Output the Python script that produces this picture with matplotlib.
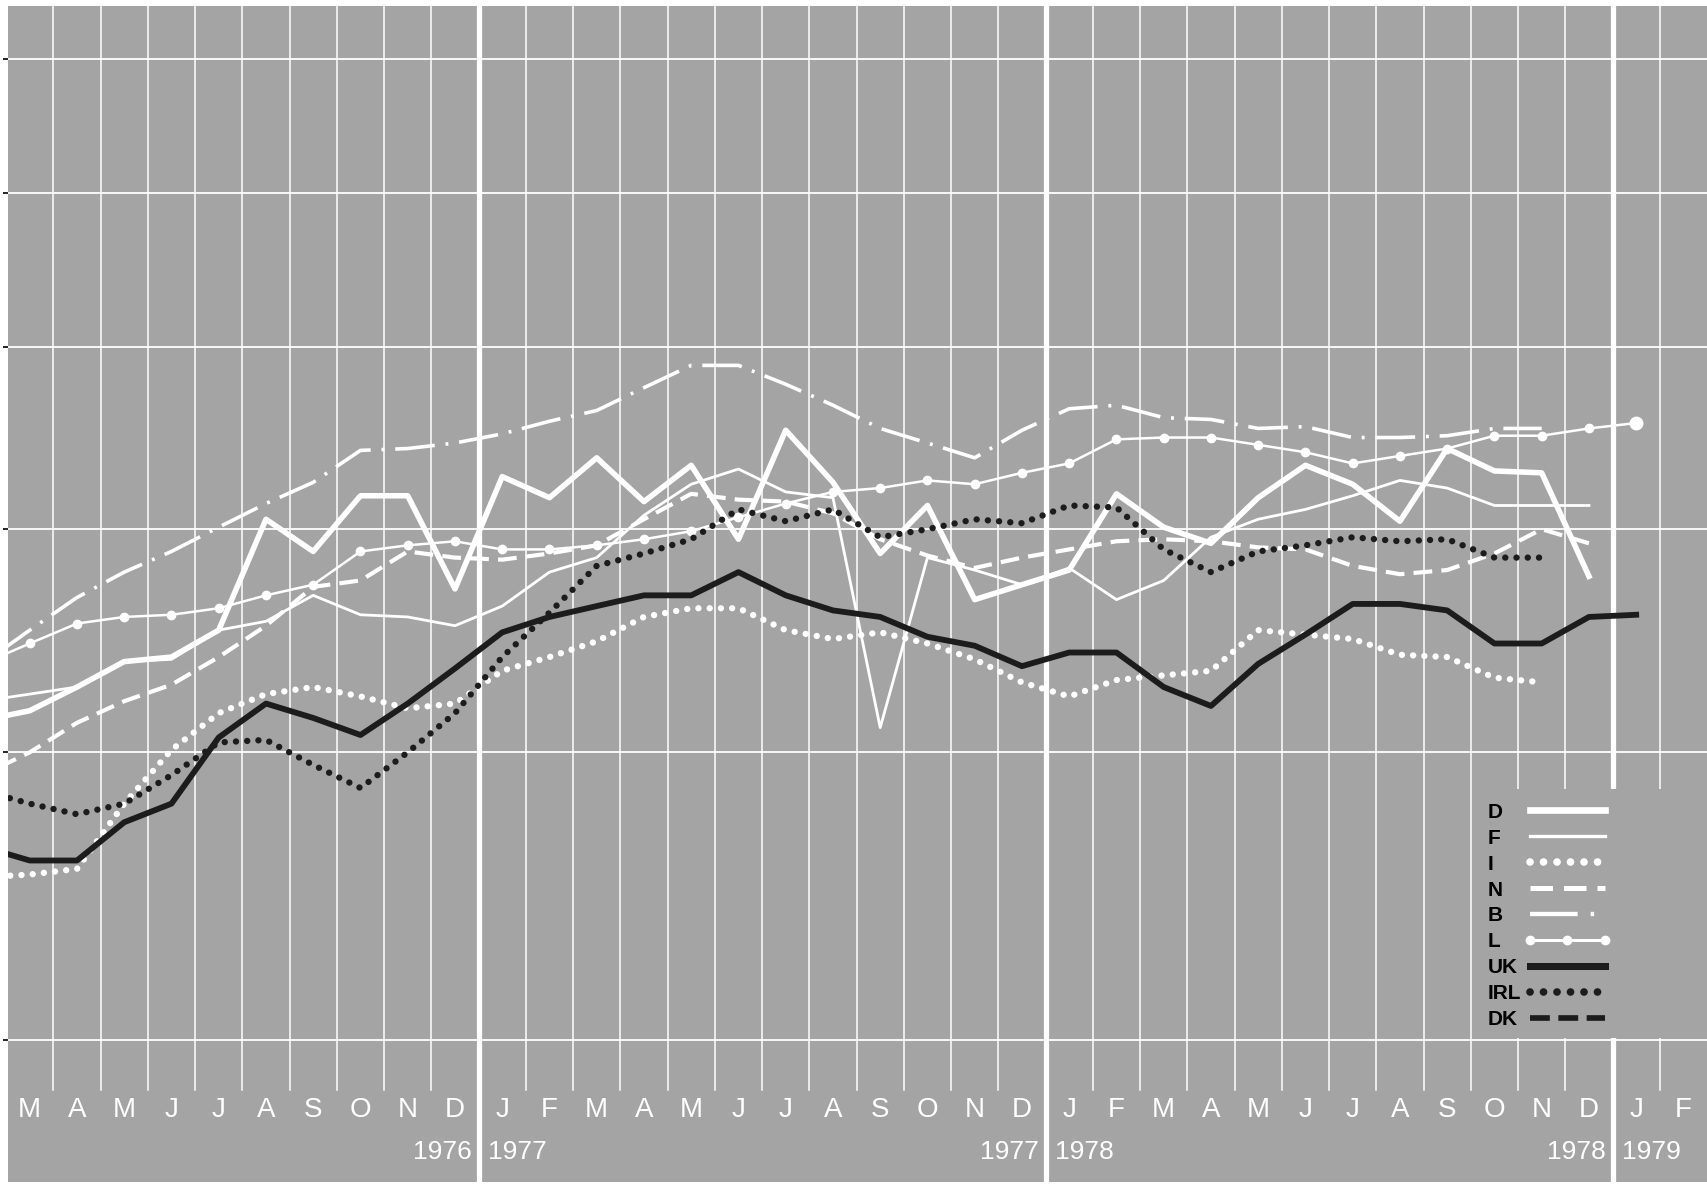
import numpy as np
import matplotlib.pyplot as plt
from matplotlib.patches import Rectangle
from matplotlib.ticker import NullLocator

plt.rcParams['font.family'] = ['Liberation Sans', 'DejaVu Sans']

# month initials on the time axis, March 1976 .. February 1979
months = ['M', 'A', 'M', 'J', 'J', 'A', 'S', 'O', 'N', 'D',
          'J', 'F', 'M', 'A', 'M', 'J', 'J', 'A', 'S', 'O', 'N', 'D',
          'J', 'F', 'M', 'A', 'M', 'J', 'J', 'A', 'S', 'O', 'N', 'D',
          'J', 'F']
years = ['1976', '1977', '1978', '1979']

# monthly values (log scale), every series starts in Feb 1976
D = [4.13, 4.17, 4.27, 4.38, 4.40, 4.52, 5.05, 4.89, 5.17, 5.17, 4.71, 5.27,
     5.16, 5.37, 5.14, 5.33, 4.95, 5.52, 5.24, 4.88, 5.12, 4.66, 4.73, 4.80,
     5.18, 5.01, 4.93, 5.16, 5.33, 5.23, 5.04, 5.42, 5.30, 5.29, 4.77]
F = [4.21, 4.24, 4.27, 4.38, 4.39, 4.52, 4.56, 4.68, 4.59, 4.58, 4.54, 4.63,
     4.79, 4.86, 5.07, 5.23, 5.31, 5.19, 5.16, 4.10, 4.86, 4.80, 4.73, 4.81,
     4.66, 4.75, 4.96, 5.05, 5.10, 5.17, 5.25, 5.21, 5.12, 5.12, 5.12]
I = [3.53, 3.54, 3.56, 3.80, 4.01, 4.16, 4.24, 4.27, 4.23, 4.18, 4.20, 4.34,
     4.40, 4.47, 4.58, 4.62, 4.62, 4.52, 4.48, 4.51, 4.46, 4.39, 4.29, 4.23,
     4.30, 4.32, 4.34, 4.52, 4.50, 4.48, 4.41, 4.40, 4.31, 4.29]
N = [3.91, 4.00, 4.12, 4.21, 4.28, 4.40, 4.54, 4.72, 4.75, 4.89, 4.86, 4.85,
     4.88, 4.92, 5.05, 5.18, 5.15, 5.14, 5.08, 4.95, 4.87, 4.81, 4.86, 4.90,
     4.94, 4.95, 4.94, 4.91, 4.90, 4.82, 4.78, 4.80, 4.88, 5.00, 4.93]
B = [4.37, 4.52, 4.67, 4.79, 4.89, 5.01, 5.13, 5.24, 5.41, 5.42, 5.45, 5.50,
     5.57, 5.63, 5.76, 5.89, 5.89, 5.78, 5.66, 5.53, 5.45, 5.37, 5.52, 5.64,
     5.66, 5.59, 5.58, 5.53, 5.54, 5.48, 5.48, 5.49, 5.53, 5.53]
L = [4.37, 4.46, 4.55, 4.58, 4.59, 4.62, 4.68, 4.73, 4.89, 4.92, 4.94, 4.90,
     4.90, 4.92, 4.95, 4.99, 5.06, 5.13, 5.19, 5.21, 5.25, 5.23, 5.29, 5.34,
     5.47, 5.48, 5.48, 5.44, 5.40, 5.34, 5.38, 5.42, 5.49, 5.49, 5.53, 5.56]
UK = [3.64, 3.59, 3.59, 3.73, 3.80, 4.06, 4.20, 4.14, 4.07, 4.20, 4.35, 4.51,
      4.58, 4.63, 4.68, 4.68, 4.79, 4.68, 4.61, 4.58, 4.49, 4.45, 4.36, 4.42,
      4.42, 4.27, 4.19, 4.37, 4.50, 4.64, 4.64, 4.61, 4.46, 4.46, 4.58, 4.59]
IRL = [3.85, 3.80, 3.76, 3.80, 3.91, 4.04, 4.05, 3.95, 3.86, 4.00, 4.16, 4.40,
       4.60, 4.82, 4.88, 4.95, 5.10, 5.04, 5.10, 4.96, 5.00, 5.05, 5.03, 5.12,
       5.11, 4.90, 4.79, 4.89, 4.92, 4.96, 4.94, 4.95, 4.86, 4.86]
DK = []  # only in the key, no line drawn

countries = ['D', 'F', 'I', 'N', 'B', 'L', 'UK', 'IRL', 'DK']
series = {'D': D, 'F': F, 'I': I, 'N': N, 'B': B, 'L': L,
          'UK': UK, 'IRL': IRL, 'DK': DK}
grid_values = [3, 4, 5, 6, 7, 8]

BG = '#a4a4a4'
WHITE = 'white'
BLACK = '#1c1c1c'
dots = (0, (0.01, 1.75))
styles = {
    'D':   dict(color=WHITE, lw=4.0, ls='-'),
    'F':   dict(color=WHITE, lw=2.0, ls='-'),
    'I':   dict(color=WHITE, lw=4.6, ls=dots, dash_capstyle='round'),
    'N':   dict(color=WHITE, lw=3.0, ls=(0, (4.5, 2.2))),
    'B':   dict(color=WHITE, lw=2.6, ls=(0, (11, 3, 0.8, 3))),
    'L':   dict(color=WHITE, lw=1.8, ls='-', marker='o', ms=6),
    'UK':  dict(color=BLACK, lw=4.2, ls='-'),
    'IRL': dict(color=BLACK, lw=4.6, ls=dots, dash_capstyle='round'),
    'DK':  dict(color=BLACK, lw=3.4, ls=(0, (3.5, 1.5))),
}

fig = plt.figure(figsize=(17.08, 11.84), dpi=100, facecolor='white')
ax = fig.add_axes([8 / 1708, 2 / 1184, 1700 / 1708, 1176 / 1184])
ax.set_facecolor(BG)
ax.set_yscale('log')
ax.set_xlim(-0.46, 35.52)
ax.set_ylim(2.603, 8.437)
for s in ax.spines.values():
    s.set_visible(False)
ax.set_xticks([])
ax.set_yticks(grid_values)
ax.yaxis.set_minor_locator(NullLocator())
ax.tick_params(axis='y', direction='out', length=3.6, width=1.2,
               color='black', labelleft=False)

# grid: horizontal at the scale values, vertical between months, thick at year ends
for v in grid_values:
    ax.axhline(v, color='white', lw=1.3, zorder=1)
year_ends = []
for k in range(len(months) - 1):
    edge = k + 0.5
    if months[k + 1] == 'J' and months[k] == 'D':
        year_ends.append(edge)
        ax.axvline(edge, color='white', lw=3.8, zorder=1.5)
    else:
        ax.axvline(edge, ymin=0.078, color='white', lw=1.1, zorder=1)

# series
for c in countries:
    vals = series[c]
    if not vals:
        continue
    x = np.arange(len(vals)) - 1
    ax.plot(x, vals, zorder=3, **styles[c])
    if c == 'L':
        ax.plot(x[-1], vals[-1], 'o', ms=9, color=WHITE, zorder=3)

# axis labels
xt = ax.get_xaxis_transform()
for i, m in enumerate(months):
    ax.text(i, 0.061, m, transform=xt, ha='center', va='center',
            color='white', fontsize=20)
for k, b in enumerate(year_ends):
    ax.text(b - 0.15, 0.0255, years[k], transform=xt, ha='right', va='center',
            color='white', fontsize=19)
    ax.text(b + 0.2, 0.0255, years[k + 1], transform=xt, ha='left', va='center',
            color='white', fontsize=19)

# key box
ax.add_patch(Rectangle((30.52, 0.1224), 6, 0.212, transform=xt,
                       facecolor=BG, edgecolor='none', zorder=2))
x0, x1 = 0.8953, 0.9394
for r, c in enumerate(countries):
    y = 0.3163 - r * 0.0221
    ax.text(0.8706, y, c, transform=ax.transAxes, ha='left', va='center_baseline',
            fontsize=15, fontweight='bold', color='black', zorder=4)
    st = dict(styles[c])
    st['lw'] = st['lw'] * 1.2
    if c == 'L':
        ax.plot([x0, (x0 + x1) / 2, x1], [y, y, y], transform=ax.transAxes,
                zorder=4, **st)
    else:
        ax.plot([x0, x1], [y, y], transform=ax.transAxes, zorder=4, **st)

fig.savefig('out.png', dpi=100, facecolor='white')
